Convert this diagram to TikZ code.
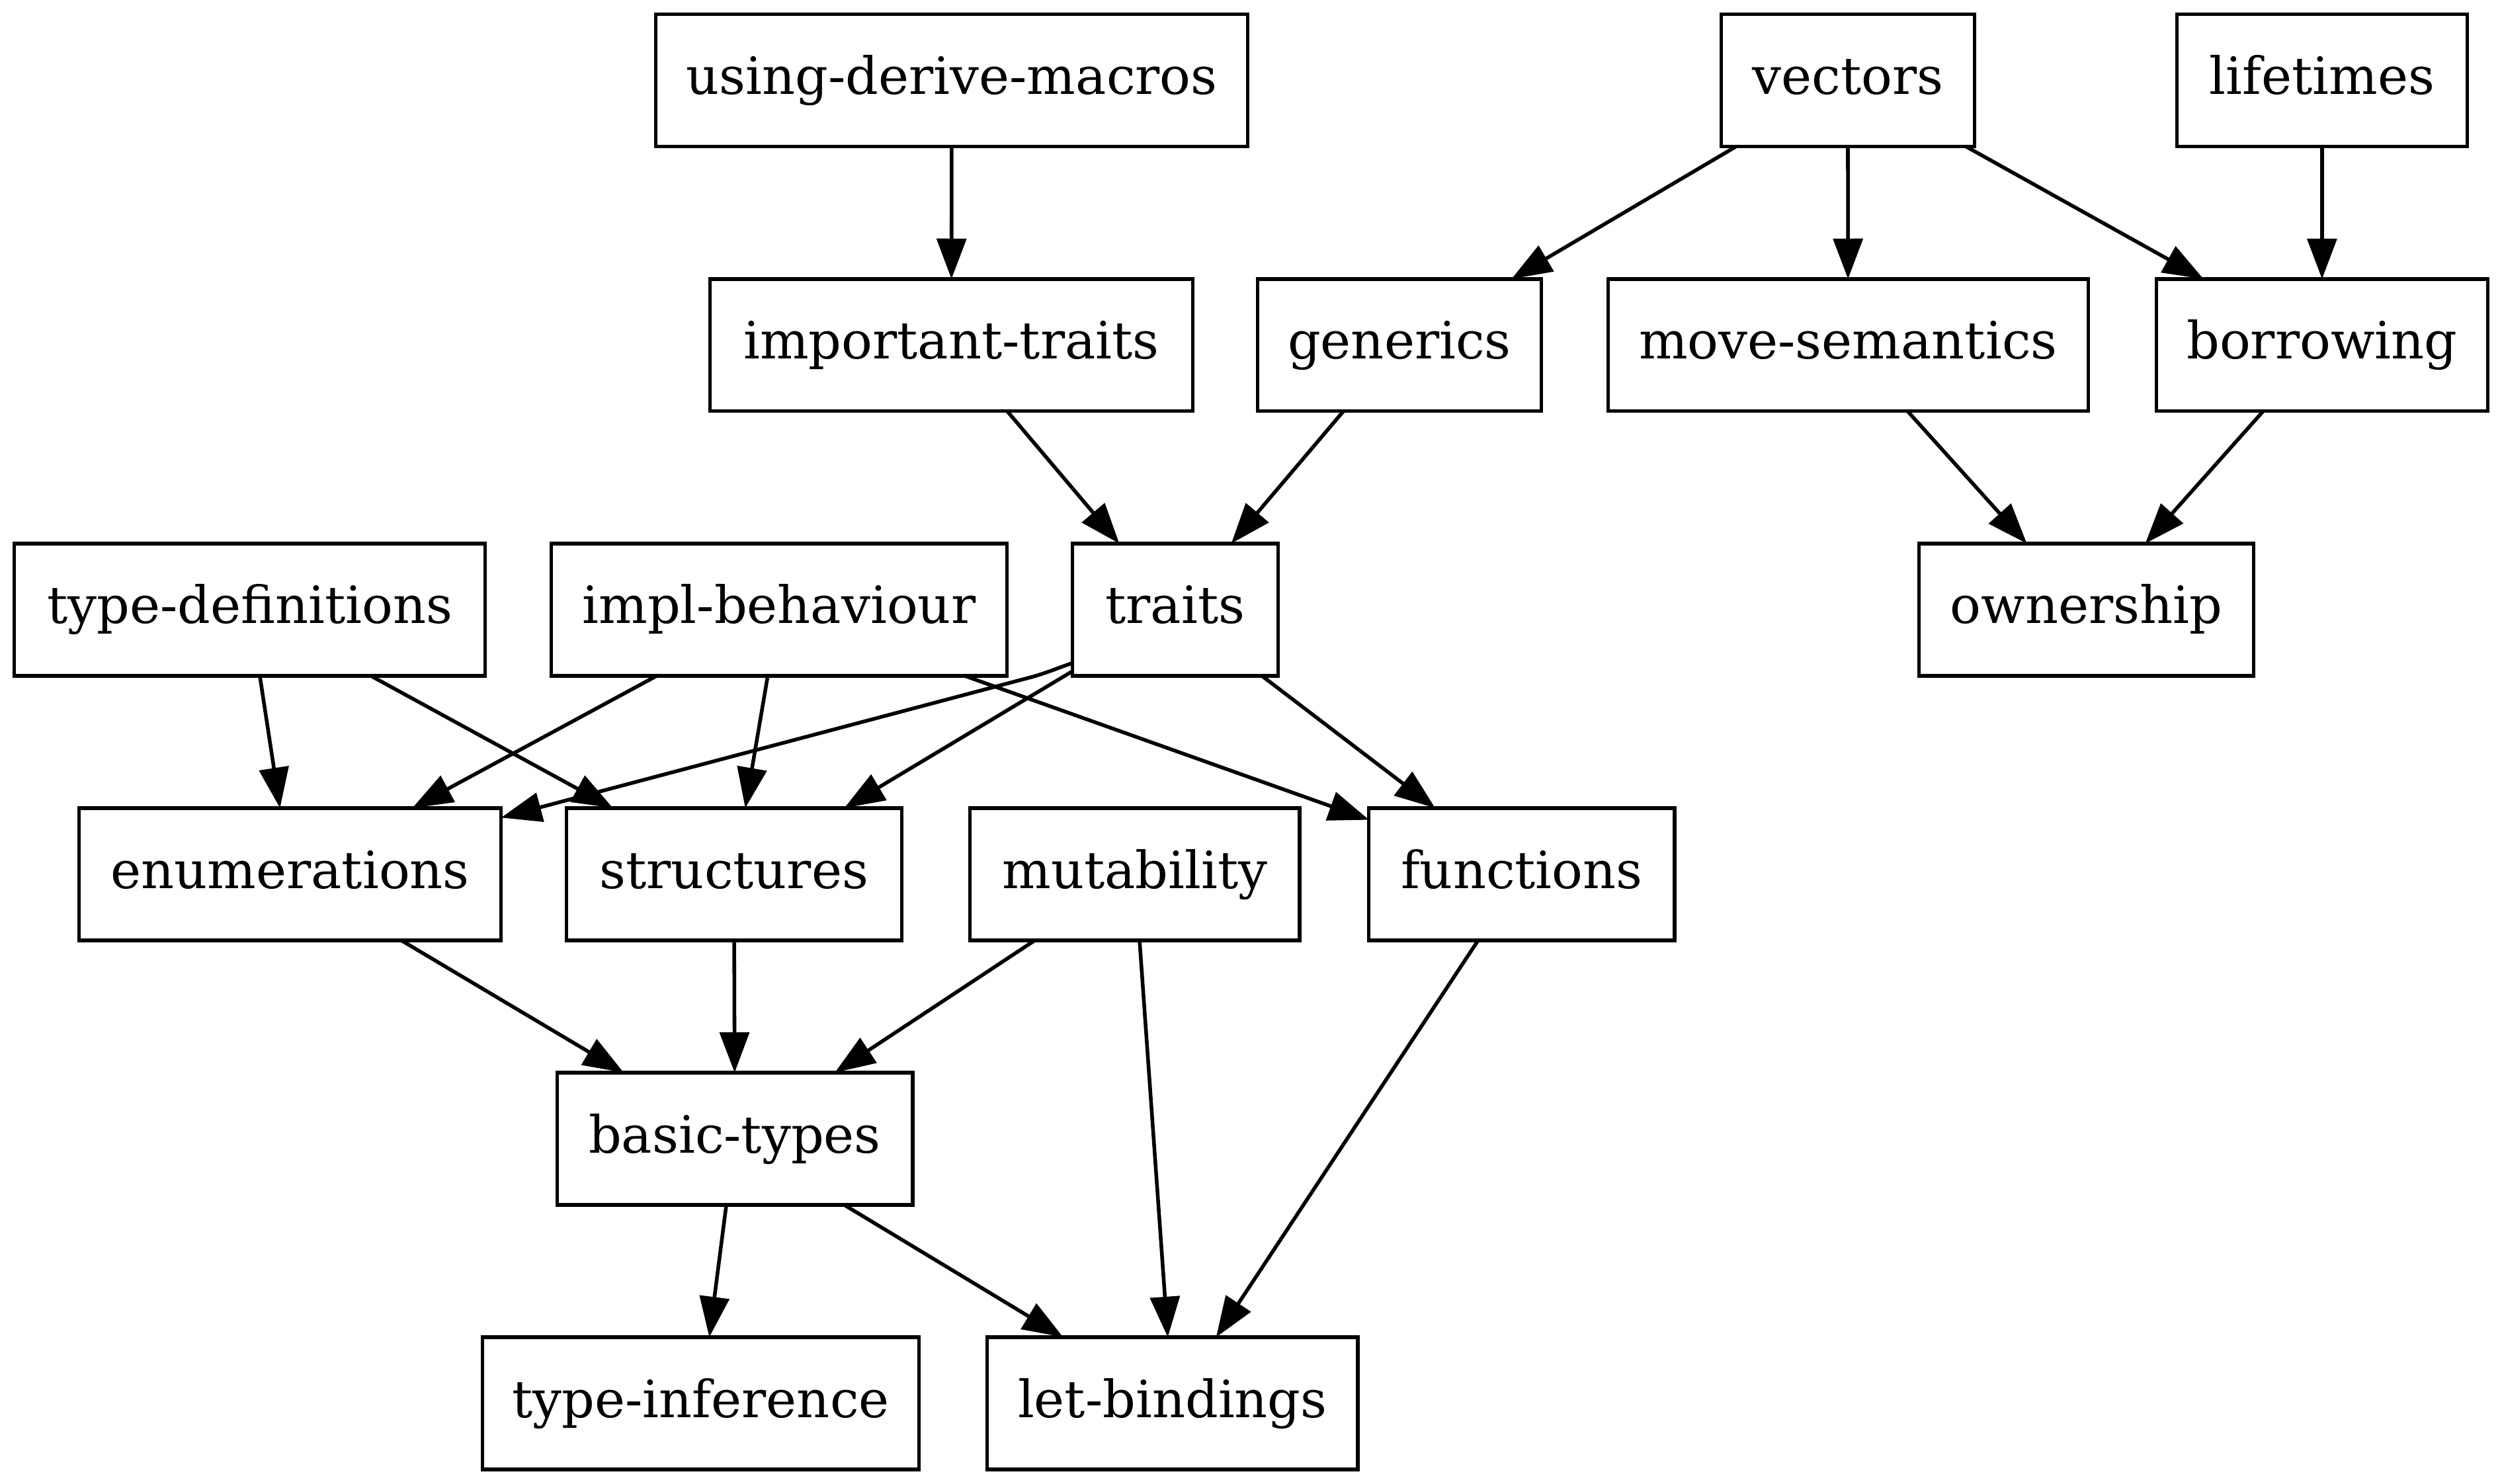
\documentclass[tikz,border=0pt]{standalone}
\usepackage{fontspec}
\setmainfont{DejaVu Serif}
\usetikzlibrary{arrows.meta,calc}
\begin{document}
\begin{tikzpicture}[x=0.4343pt,y=-0.4343pt,
  box/.style={draw,line width=0.95pt,rectangle,minimum height=36pt,inner sep=0pt,outer sep=0pt,
    text height=10.5pt,text depth=2.9pt,font=\fontsize{14}{16.8}\selectfont},
  edge/.style={draw,line width=1pt,-{Triangle[length=11pt,width=8pt]}}]
\useasboundingbox (0,0) rectangle (1568,930.1);
% row 0
\node[box,minimum width=161.1pt] (udm) at (596.5,50.5) {using-derive-macros};
\node[box,minimum width=68.9pt] (vec) at (1158,50.5) {vectors};
\node[box,minimum width=79.0pt] (lif) at (1455.2,50.5) {lifetimes};
% row 1
\node[box,minimum width=131.4pt] (imp) at (596.2,216.3) {important-traits};
\node[box,minimum width=77.3pt] (gen) at (877,216.3) {generics};
\node[box,minimum width=130.7pt] (mov) at (1158.2,216.3) {move-semantics};
\node[box,minimum width=90.2pt] (bor) at (1455.2,216.3) {borrowing};
% row 2
\node[box,minimum width=128.1pt] (tdef) at (156.5,382.1) {type-definitions};
\node[box,minimum width=124.0pt] (impl) at (488.2,382.1) {impl-behaviour};
\node[box,minimum width=56.0pt] (tra) at (736.5,382.1) {traits};
\node[box,minimum width=91.1pt] (own) at (1307.5,382.1) {ownership};
% row 3
\node[box,minimum width=114.9pt] (enu) at (181.8,547.9) {enumerations};
\node[box,minimum width=91.2pt] (str) at (460,547.9) {structures};
\node[box,minimum width=89.7pt] (mut) at (711.2,547.9) {mutability};
\node[box,minimum width=83.2pt] (fun) at (953.7,547.9) {functions};
% row 4
\node[box,minimum width=96.8pt] (bas) at (460.5,713.7) {basic-types};
% row 5
\node[box,minimum width=118.8pt] (tin) at (439.2,879.5) {type-inference};
\node[box,minimum width=100.9pt] (let) at (734.8,879.5) {let-bindings};
% edges
\draw[edge] (udm) -- (imp);
\draw[edge] (vec) -- (gen);
\draw[edge] (vec) -- (mov);
\draw[edge] (vec) -- (bor);
\draw[edge] (lif) -- (bor);
\draw[edge] (imp) -- (tra);
\draw[edge] (gen) -- (tra);
\draw[edge] (mov) -- (own);
\draw[edge] (bor) -- (own);
\draw[edge] (tdef) -- (enu);
\draw[edge] (tdef) -- (str);
\draw[edge] (impl) -- (enu);
\draw[edge] (impl) -- (str);
\draw[edge] (impl) -- (fun);
\coordinate (tebend) at (644,425);
\draw[edge] ($(tra.south west)+(0,-8)$) .. controls (662,419) and (654,422.5) .. (tebend) -- ($(enu.north east)+(0,6)$);
\draw[edge] (tra) -- (str);
\draw[edge] (tra) -- (fun);
\draw[edge] (enu) -- (bas);
\draw[edge] (str) -- (bas);
\draw[edge] (mut) -- (bas);
\draw[edge] (mut) -- (let);
\draw[edge] (fun) -- (let);
\draw[edge] (bas) -- (tin);
\draw[edge] (bas) -- (let);
\end{tikzpicture}
\end{document}
